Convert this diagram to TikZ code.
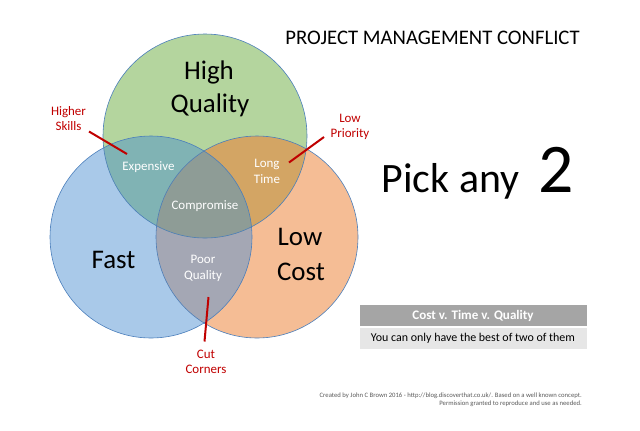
\documentclass[tikz,border=0pt]{standalone}
\usepackage{fontspec}
\setmainfont{Carlito}
\definecolor{cgreen}{HTML}{B4D59E}
\definecolor{cblue}{HTML}{A9C9E9}
\definecolor{corange}{HTML}{F5BD95}
\definecolor{cteal}{HTML}{80B3B4}
\definecolor{ctan}{HTML}{D3A564}
\definecolor{cgray}{HTML}{A4A7B4}
\definecolor{ccomp}{HTML}{8E9C96}
\definecolor{cedge}{HTML}{4A7EBB}
\definecolor{cred}{HTML}{C00000}
\definecolor{chead}{HTML}{A5A5A5}
\definecolor{cbody}{HTML}{E6E6E6}
\definecolor{cfoot}{HTML}{595959}
\begin{document}
\begin{tikzpicture}[x=1bp,y=-1bp,
  bigtxt/.style={font=\fontsize{27}{33}\selectfont, inner sep=0pt, anchor=base},
  wtxt/.style={font=\fontsize{13}{16}\selectfont, text=white, inner sep=0pt, anchor=base},
  rtxt/.style={font=\fontsize{13}{16}\selectfont, text=cred, inner sep=0pt, anchor=base},
  rline/.style={cred, line width=2bp},
  ring/.style={cedge, line width=0.6bp}]
\useasboundingbox (0,0) rectangle (640,430);
% circles
\fill[cblue] (151,237) circle[radius=101bp];
\fill[corange] (257,237) circle[radius=101bp];
\begin{scope}
  \clip (151,237) circle[radius=101bp];
  \fill[cgray] (257,237) circle[radius=101bp];
\end{scope}
\fill[cgreen] (205,136) circle[radius=102bp];
\begin{scope}
  \clip (205,136) circle[radius=102bp];
  \fill[cteal] (151,237) circle[radius=101bp];
  \fill[ctan] (257,237) circle[radius=101bp];
  \clip (151,237) circle[radius=101bp];
  \fill[ccomp] (257,237) circle[radius=101bp];
\end{scope}
\draw[ring] (151,237) circle[radius=101bp];
\draw[ring] (257,237) circle[radius=101bp];
\draw[ring] (205,136) circle[radius=102bp];
% main labels
\node[bigtxt] (hq1) at (209,79) {High};
\node[bigtxt] (hq2) at (210,112) {Quality};
\node[bigtxt] (fast) at (113.5,268) {Fast};
\node[bigtxt] (lc1) at (300,245) {Low};
\node[bigtxt] (lc2) at (301,280) {Cost};
% overlap labels
\node[wtxt] (exp) at (148.5,170) {Expensive};
\node[wtxt] (comp) at (205,209) {Compromise};
\node[wtxt] (lt1) at (267,167) {Long};
\node[wtxt] (lt2) at (267,183.5) {Time};
\node[wtxt] (pq1) at (203,263) {Poor};
\node[wtxt] (pq2) at (203,279) {Quality};
% red labels
\node[rtxt] (hs1) at (68.5,115.5) {Higher};
\node[rtxt] (hs2) at (68.5,130) {Skills};
\node[rtxt] (lp1) at (350,122) {Low};
\node[rtxt] (lp2) at (350,137) {Priority};
\node[rtxt] (cc1) at (206,358) {Cut};
\node[rtxt] (cc2) at (206,373) {Corners};
\coordinate (hsA) at (89,131.5);
\coordinate (hsB) at (127,154);
\coordinate (lpA) at (324,137);
\coordinate (lpB) at (289,162.5);
\coordinate (ccA) at (208.5,297);
\coordinate (ccB) at (204.5,341.5);
\draw[rline] (hsA) -- (hsB);
\draw[rline] (lpA) -- (lpB);
\draw[rline] (ccA) -- (ccB);
% title and pick
\node[inner sep=0pt, anchor=base, font=\fontsize{20.8}{25}\selectfont] (title) at (432.5,44) {PROJECT MANAGEMENT CONFLICT};
\node[inner sep=0pt, anchor=base west] (pick) at (381.5,192) {\fontsize{42}{48}\selectfont Pick any\hspace{19bp}\fontsize{70}{80}\selectfont 2};
% boxes
\node[fill=chead, minimum width=227bp, minimum height=21bp, inner sep=0pt, text=white, font=\bfseries\fontsize{13.1}{16}\selectfont] (hdr) at (473,315.5) {Cost v. Time v. Quality};
\node[fill=cbody, minimum width=227bp, minimum height=21bp, inner sep=0pt, font=\fontsize{12}{15}\selectfont, anchor=north] (body) at ([yshift=-1.5bp]hdr.south) {You can only have the best of two of them};
% footer
\node[inner sep=0pt, anchor=base east, text=cfoot, font=\fontsize{6.7}{8}\selectfont] (f1) at (582,397) {Created by John C Brown 2016 - http://blog.discoverthat.co.uk/. Based on a well known concept.};
\node[inner sep=0pt, anchor=base east, text=cfoot, font=\fontsize{6.7}{8}\selectfont] (f2) at (582,405.5) {Permission granted to reproduce and use as needed.};
\end{tikzpicture}
\end{document}
